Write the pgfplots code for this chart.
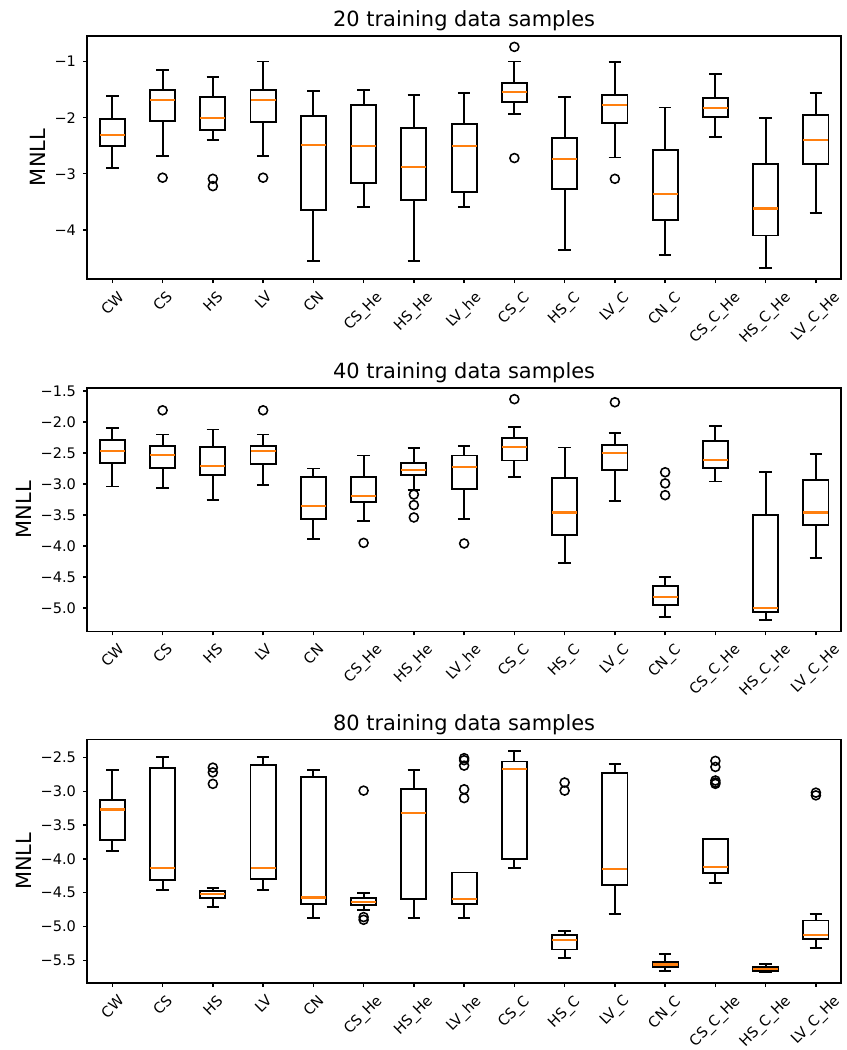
\documentclass[border=0pt]{standalone}
\usepackage{fontspec}
\setmainfont{DejaVu Sans}
\usepackage{pgfplots}
\pgfplotsset{compat=1.18}
\usepgfplotslibrary{statistics}
\definecolor{mplorange}{HTML}{FF7F0E}
\newcommand{\ticksize}{\fontsize{8.4}{10}\selectfont}
\newcommand{\labsize}{\fontsize{12.1}{14}\selectfont}

\pgfplotsset{
  panel/.style={
    scale only axis, width=435.6pt, height=140.6pt, anchor=north west,
    xmin=0.5, xmax=15.5,
    xtick={1,2,3,4,5,6,7,8,9,10,11,12,13,14,15},
    xticklabels={\rotatebox{45}{CW},\rotatebox{45}{CS},\rotatebox{45}{HS},\rotatebox{45}{LV},
      \rotatebox{45}{CN},\rotatebox{45}{CS\_He},\rotatebox{45}{HS\_He},\rotatebox{45}{LV\_he},
      \rotatebox{45}{CS\_C},\rotatebox{45}{HS\_C},\rotatebox{45}{LV\_C},\rotatebox{45}{CN\_C},
      \rotatebox{45}{CS\_C\_He},\rotatebox{45}{HS\_C\_He},\rotatebox{45}{LV\_C\_He}},
    tick align=outside, xtick pos=bottom, ytick pos=left,
    major tick length=2.3pt,
    tick style={black, line width=0.8pt},
    axis line style={black, line width=0.85pt},
    ticklabel style={font=\ticksize},
    xticklabel style={anchor=north, inner sep=0pt, yshift=-4pt},
    yticklabel style={anchor=east, inner sep=0pt, xshift=-4pt},
    ylabel={MNLL}, ylabel style={font=\labsize, yshift=1.5pt},
    every axis title/.style={at={(0.5,1)}, anchor=base, yshift=5.3pt, font=\labsize},
    boxplot/draw direction=y,
    boxplot/box extend=0.5, boxplot/whisker extend=0.25,
    boxplot/every median/.style={draw=mplorange, line width=1.25pt},
  },
  mbx/.style={black, solid, line width=1.1pt, mark=o, mark size=2.6pt,
    mark options={solid, line width=0.9pt}},
}

\begin{document}
\begin{tikzpicture}
\path (0,0) rectangle (489.3pt,-603.75pt);

% each box: lower whisker, Q1, median, Q3, upper whisker; outliers as coordinates
\begin{axis}[panel, at={(50.4pt,-20.7pt)},
  title={20 training data samples},
  ymin=-4.877, ymax=-0.543,
  ytick={-4,-3,-2,-1}, yticklabels={−4,−3,−2,−1}]
\addplot[mbx, boxplot prepared={draw position=1, lower whisker=-2.89, lower quartile=-2.50, median=-2.31, upper quartile=-2.03, upper whisker=-1.62}] coordinates {};
\addplot[mbx, boxplot prepared={draw position=2, lower whisker=-2.68, lower quartile=-2.06, median=-1.69, upper quartile=-1.50, upper whisker=-1.15}] coordinates {(2,-3.07)};
\addplot[mbx, boxplot prepared={draw position=3, lower whisker=-2.40, lower quartile=-2.22, median=-2.00, upper quartile=-1.64, upper whisker=-1.28}] coordinates {(3,-3.09) (3,-3.22)};
\addplot[mbx, boxplot prepared={draw position=4, lower whisker=-2.68, lower quartile=-2.07, median=-1.69, upper quartile=-1.50, upper whisker=-1.00}] coordinates {(4,-3.07)};
\addplot[mbx, boxplot prepared={draw position=5, lower whisker=-4.56, lower quartile=-3.65, median=-2.49, upper quartile=-1.97, upper whisker=-1.53}] coordinates {};
\addplot[mbx, boxplot prepared={draw position=6, lower whisker=-3.60, lower quartile=-3.17, median=-2.51, upper quartile=-1.77, upper whisker=-1.51}] coordinates {};
\addplot[mbx, boxplot prepared={draw position=7, lower whisker=-4.56, lower quartile=-3.46, median=-2.88, upper quartile=-2.19, upper whisker=-1.60}] coordinates {};
\addplot[mbx, boxplot prepared={draw position=8, lower whisker=-3.60, lower quartile=-3.32, median=-2.50, upper quartile=-2.12, upper whisker=-1.56}] coordinates {};
\addplot[mbx, boxplot prepared={draw position=9, lower whisker=-1.94, lower quartile=-1.72, median=-1.54, upper quartile=-1.38, upper whisker=-1.00}] coordinates {(9,-0.74) (9,-2.72)};
\addplot[mbx, boxplot prepared={draw position=10, lower whisker=-4.35, lower quartile=-3.27, median=-2.74, upper quartile=-2.36, upper whisker=-1.63}] coordinates {};
\addplot[mbx, boxplot prepared={draw position=11, lower whisker=-2.71, lower quartile=-2.10, median=-1.78, upper quartile=-1.59, upper whisker=-1.01}] coordinates {(11,-3.09)};
\addplot[mbx, boxplot prepared={draw position=12, lower whisker=-4.44, lower quartile=-3.82, median=-3.36, upper quartile=-2.57, upper whisker=-1.82}] coordinates {};
\addplot[mbx, boxplot prepared={draw position=13, lower whisker=-2.35, lower quartile=-1.99, median=-1.83, upper quartile=-1.65, upper whisker=-1.22}] coordinates {};
\addplot[mbx, boxplot prepared={draw position=14, lower whisker=-4.68, lower quartile=-4.10, median=-3.62, upper quartile=-2.83, upper whisker=-2.01}] coordinates {};
\addplot[mbx, boxplot prepared={draw position=15, lower whisker=-3.70, lower quartile=-2.83, median=-2.40, upper quartile=-1.96, upper whisker=-1.56}] coordinates {};
\end{axis}

\begin{axis}[panel, at={(50.4pt,-224.25pt)},
  title={40 training data samples},
  ymin=-5.379, ymax=-1.451,
  ytick={-5,-4.5,-4,-3.5,-3,-2.5,-2,-1.5},
  yticklabels={−5.0,−4.5,−4.0,−3.5,−3.0,−2.5,−2.0,−1.5}]
\addplot[mbx, boxplot prepared={draw position=1, lower whisker=-3.04, lower quartile=-2.66, median=-2.47, upper quartile=-2.29, upper whisker=-2.10}] coordinates {};
\addplot[mbx, boxplot prepared={draw position=2, lower whisker=-3.06, lower quartile=-2.74, median=-2.53, upper quartile=-2.38, upper whisker=-2.20}] coordinates {(2,-1.81)};
\addplot[mbx, boxplot prepared={draw position=3, lower whisker=-3.26, lower quartile=-2.86, median=-2.71, upper quartile=-2.40, upper whisker=-2.12}] coordinates {};
\addplot[mbx, boxplot prepared={draw position=4, lower whisker=-3.02, lower quartile=-2.67, median=-2.47, upper quartile=-2.38, upper whisker=-2.20}] coordinates {(4,-1.81)};
\addplot[mbx, boxplot prepared={draw position=5, lower whisker=-3.89, lower quartile=-3.57, median=-3.36, upper quartile=-2.88, upper whisker=-2.75}] coordinates {};
\addplot[mbx, boxplot prepared={draw position=6, lower whisker=-3.60, lower quartile=-3.29, median=-3.19, upper quartile=-2.88, upper whisker=-2.54}] coordinates {(6,-3.95)};
\addplot[mbx, boxplot prepared={draw position=7, lower whisker=-3.10, lower quartile=-2.85, median=-2.78, upper quartile=-2.66, upper whisker=-2.42}] coordinates {(7,-3.17) (7,-3.34) (7,-3.54)};
\addplot[mbx, boxplot prepared={draw position=8, lower whisker=-3.57, lower quartile=-3.08, median=-2.73, upper quartile=-2.54, upper whisker=-2.39}] coordinates {(8,-3.96)};
\addplot[mbx, boxplot prepared={draw position=9, lower whisker=-2.89, lower quartile=-2.62, median=-2.40, upper quartile=-2.25, upper whisker=-2.08}] coordinates {(9,-1.63)};
\addplot[mbx, boxplot prepared={draw position=10, lower whisker=-4.27, lower quartile=-3.83, median=-3.46, upper quartile=-2.91, upper whisker=-2.41}] coordinates {};
\addplot[mbx, boxplot prepared={draw position=11, lower whisker=-3.27, lower quartile=-2.78, median=-2.50, upper quartile=-2.37, upper whisker=-2.18}] coordinates {(11,-1.68)};
\addplot[mbx, boxplot prepared={draw position=12, lower whisker=-5.15, lower quartile=-4.96, median=-4.82, upper quartile=-4.65, upper whisker=-4.50}] coordinates {(12,-2.81) (12,-2.99) (12,-3.18)};
\addplot[mbx, boxplot prepared={draw position=13, lower whisker=-2.96, lower quartile=-2.74, median=-2.61, upper quartile=-2.31, upper whisker=-2.06}] coordinates {};
\addplot[mbx, boxplot prepared={draw position=14, lower whisker=-5.20, lower quartile=-5.06, median=-5.00, upper quartile=-3.50, upper whisker=-2.81}] coordinates {};
\addplot[mbx, boxplot prepared={draw position=15, lower whisker=-4.20, lower quartile=-3.66, median=-3.46, upper quartile=-2.93, upper whisker=-2.51}] coordinates {};
\end{axis}

\begin{axis}[panel, at={(50.4pt,-427.4pt)},
  title={80 training data samples},
  ymin=-5.834, ymax=-2.236,
  ytick={-5.5,-5,-4.5,-4,-3.5,-3,-2.5},
  yticklabels={−5.5,−5.0,−4.5,−4.0,−3.5,−3.0,−2.5}]
\addplot[mbx, boxplot prepared={draw position=1, lower whisker=-3.88, lower quartile=-3.72, median=-3.27, upper quartile=-3.13, upper whisker=-2.68}] coordinates {};
\addplot[mbx, boxplot prepared={draw position=2, lower whisker=-4.46, lower quartile=-4.31, median=-4.13, upper quartile=-2.65, upper whisker=-2.49}] coordinates {};
\addplot[mbx, boxplot prepared={draw position=3, lower whisker=-4.71, lower quartile=-4.58, median=-4.52, upper quartile=-4.48, upper whisker=-4.43}] coordinates {(3,-2.65) (3,-2.72) (3,-2.89)};
\addplot[mbx, boxplot prepared={draw position=4, lower whisker=-4.46, lower quartile=-4.30, median=-4.13, upper quartile=-2.61, upper whisker=-2.49}] coordinates {};
\addplot[mbx, boxplot prepared={draw position=5, lower whisker=-4.88, lower quartile=-4.67, median=-4.57, upper quartile=-2.79, upper whisker=-2.69}] coordinates {};
\addplot[mbx, boxplot prepared={draw position=6, lower whisker=-4.75, lower quartile=-4.68, median=-4.64, upper quartile=-4.58, upper whisker=-4.51}] coordinates {(6,-2.99) (6,-4.86) (6,-4.90)};
\addplot[mbx, boxplot prepared={draw position=7, lower whisker=-4.88, lower quartile=-4.59, median=-3.32, upper quartile=-2.96, upper whisker=-2.69}] coordinates {};
\addplot[mbx, boxplot prepared={draw position=8, lower whisker=-4.88, lower quartile=-4.67, median=-4.59, upper quartile=-4.20, upper whisker=-4.20}] coordinates {(8,-2.51) (8,-2.54) (8,-2.62) (8,-2.97) (8,-3.10)};
\addplot[mbx, boxplot prepared={draw position=9, lower whisker=-4.13, lower quartile=-4.00, median=-2.67, upper quartile=-2.56, upper whisker=-2.40}] coordinates {};
\addplot[mbx, boxplot prepared={draw position=10, lower whisker=-5.47, lower quartile=-5.34, median=-5.20, upper quartile=-5.13, upper whisker=-5.06}] coordinates {(10,-2.87) (10,-2.99)};
\addplot[mbx, boxplot prepared={draw position=11, lower whisker=-4.82, lower quartile=-4.38, median=-4.15, upper quartile=-2.73, upper whisker=-2.60}] coordinates {};
\addplot[mbx, boxplot prepared={draw position=12, lower whisker=-5.66, lower quartile=-5.60, median=-5.56, upper quartile=-5.52, upper whisker=-5.41}] coordinates {};
\addplot[mbx, boxplot prepared={draw position=13, lower whisker=-4.35, lower quartile=-4.21, median=-4.12, upper quartile=-3.71, upper whisker=-3.71}] coordinates {(13,-2.55) (13,-2.64) (13,-2.84) (13,-2.87) (13,-2.89)};
\addplot[mbx, boxplot prepared={draw position=14, lower whisker=-5.67, lower quartile=-5.66, median=-5.63, upper quartile=-5.60, upper whisker=-5.55}] coordinates {};
\addplot[mbx, boxplot prepared={draw position=15, lower whisker=-5.32, lower quartile=-5.19, median=-5.12, upper quartile=-4.91, upper whisker=-4.82}] coordinates {(15,-3.02) (15,-3.06)};
\end{axis}
\end{tikzpicture}
\end{document}
